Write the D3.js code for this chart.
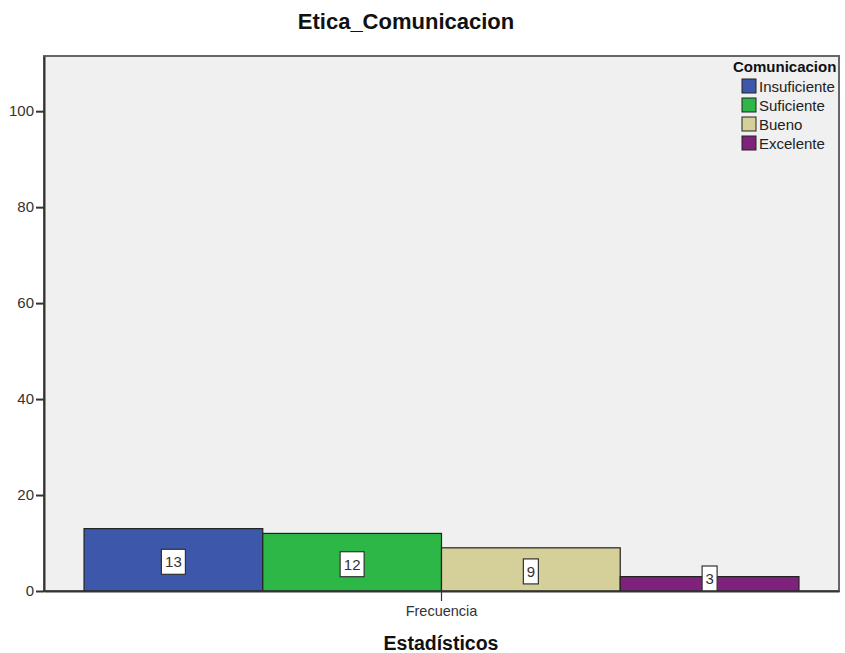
<!DOCTYPE html>
<html>
<head>
<meta charset="utf-8">
<script src="https://cdn.jsdelivr.net/npm/d3@7"></script>
<style>
  body { margin: 0; background: #fff; }
  text { font-family: Arial, "Liberation Sans", sans-serif; }
</style>
</head>
<body>
<div id="chart"></div>
<script>
// chart data
var categories = ['Insuficiente', 'Suficiente', 'Bueno', 'Excelente'];
var values = [13, 12, 9, 3];
var colors = ['#3d57ab', '#2db747', '#d5d09a', '#7f227c'];
var yTicks = [0, 20, 40, 60, 80, 100];
var xLabel = 'Frecuencia';

var width = 845, height = 653;
var margin = {top: 56, right: 6, bottom: 62, left: 44};
var plotW = width - margin.left - margin.right;
var plotH = height - margin.top - margin.bottom;

var svg = d3.select('#chart').append('svg')
    .attr('width', width)
    .attr('height', height);

// title
svg.append('text')
    .attr('x', 406).attr('y', 29)
    .attr('text-anchor', 'middle')
    .style('font-size', '22px').style('font-weight', 'bold')
    .attr('fill', '#111')
    .text('Etica_Comunicacion');

var g = svg.append('g').attr('transform', 'translate(' + margin.left + ',' + margin.top + ')');

var y = d3.scaleLinear().domain([0, 111.5]).range([plotH, 0]);
// outer band holds the single "Frecuencia" group, inner band splits the categories
var x0 = d3.scaleBand().domain([xLabel]).range([0, plotW]).paddingOuter(0.056).paddingInner(0);
var x1 = d3.scaleBand().domain(categories).range([x0(xLabel), x0(xLabel) + x0.bandwidth()]);

// background
g.append('rect')
    .attr('width', plotW).attr('height', plotH)
    .attr('fill', '#f0f0f0')
    .attr('stroke', '#666').attr('stroke-width', 2);

// bars
g.selectAll('rect.bar')
    .data(values)
    .enter().append('rect')
    .attr('class', 'bar')
    .attr('x', function(d, i){ return x1(categories[i]); })
    .attr('y', function(d){ return y(d); })
    .attr('width', x1.bandwidth())
    .attr('height', function(d){ return y(0) - y(d); })
    .attr('fill', function(d, i){ return colors[i]; })
    .attr('stroke', '#222').attr('stroke-width', 1.2);

// value labels
var lab = g.selectAll('g.lab')
    .data(values)
    .enter().append('g')
    .attr('class', 'lab')
    .attr('transform', function(d, i){
        var cx = x1(categories[i]) + x1.bandwidth() / 2;
        var cy = Math.min((y(d) + y(0)) / 2 + 2, y(0) - 12.5);
        return 'translate(' + cx + ',' + cy + ')';
    });
lab.append('rect')
    .attr('x', function(d){ return String(d).length > 1 ? -12 : -7.5; })
    .attr('y', -12.5)
    .attr('width', function(d){ return String(d).length > 1 ? 24 : 15; })
    .attr('height', 25)
    .attr('fill', '#fff')
    .attr('stroke', '#333').attr('stroke-width', 1.2);
lab.append('text')
    .attr('text-anchor', 'middle')
    .attr('dy', '0.36em')
    .style('font-size', '15px')
    .attr('fill', '#333')
    .text(function(d){ return d; });

// axes
var yAxis = g.append('g')
    .call(d3.axisLeft(y).tickValues(yTicks).tickSize(8).tickSizeOuter(0));
yAxis.select('.domain').attr('stroke', '#333').attr('stroke-width', 2);
yAxis.selectAll('.tick line').attr('stroke', '#333').attr('stroke-width', 2);
yAxis.selectAll('.tick text').attr('x', -10).style('font-size', '15px').attr('fill', '#333');

var xAxis = g.append('g')
    .attr('transform', 'translate(0,' + plotH + ')')
    .call(d3.axisBottom(x0).tickSize(10).tickSizeOuter(0));
xAxis.select('.domain').attr('stroke', '#333').attr('stroke-width', 2);
xAxis.selectAll('.tick line').attr('stroke', '#333').attr('stroke-width', 1.2);
xAxis.selectAll('.tick text').attr('y', 15).style('font-size', '14.5px').attr('fill', '#333');

svg.append('text')
    .attr('x', 441).attr('y', 650)
    .attr('text-anchor', 'middle')
    .style('font-size', '19.5px').style('font-weight', 'bold')
    .attr('fill', '#111')
    .text('Estadísticos');

// legend
var legend = svg.append('g').attr('transform', 'translate(733,0)');
legend.append('text')
    .attr('x', 0).attr('y', 72)
    .style('font-size', '15px').style('font-weight', 'bold')
    .attr('fill', '#111')
    .text('Comunicacion');
var items = legend.selectAll('g.item')
    .data(categories)
    .enter().append('g')
    .attr('class', 'item')
    .attr('transform', function(d, i){ return 'translate(9,' + (79 + i * 19) + ')'; });
items.append('rect')
    .attr('width', 14).attr('height', 14)
    .attr('fill', function(d, i){ return colors[i]; })
    .attr('stroke', '#222').attr('stroke-width', 1);
items.append('text')
    .attr('x', 17).attr('y', 12.5)
    .style('font-size', '15px')
    .attr('fill', '#222')
    .text(function(d){ return d; });
</script>
</body>
</html>
